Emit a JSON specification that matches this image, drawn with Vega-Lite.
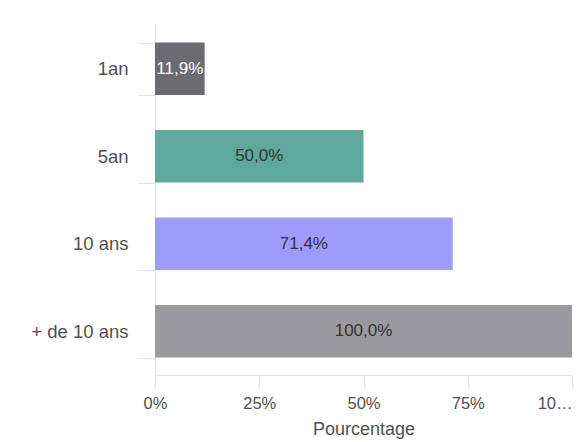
{
  "$schema": "https://vega.github.io/schema/vega-lite/v6.json",
  "width": 417,
  "height": 350,
  "autosize": {"type": "none"},
  "padding": {"left": 155, "top": 25, "right": 16, "bottom": 67},
  "data": {
    "values": [
      {"duree": "1an", "value": 0.119},
      {"duree": "5an", "value": 0.5},
      {"duree": "10 ans", "value": 0.714},
      {"duree": "+ de 10 ans", "value": 1.0}
    ]
  },
  "encoding": {
    "y": {
      "field": "duree",
      "type": "nominal",
      "sort": null,
      "scale": {"paddingInner": 0.4, "paddingOuter": 0.2},
      "axis": {
        "title": null,
        "tickBand": "extent",
        "tickSize": 17,
        "labelPadding": 10,
        "labelFontSize": 18.5,
        "labelColor": "#505050",
        "labelFont": "Liberation Sans",
        "domainColor": "#dde3f1",
        "tickColor": "#dde3f1"
      }
    }
  },
  "layer": [
    {
      "mark": {"type": "bar"},
      "encoding": {
        "x": {
          "field": "value",
          "type": "quantitative",
          "scale": {"domain": [0, 1], "nice": false},
          "axis": {
            "title": "Pourcentage",
            "format": ".0%",
            "values": [0, 0.25, 0.5, 0.75, 1],
            "labelExpr": "datum.value === 1 ? '10…' : datum.label",
            "labelAlign": {"condition": {"test": "datum.value === 1", "value": "right"}, "value": "center"},
            "grid": false,
            "tickSize": 14,
            "labelPadding": 6,
            "labelFontSize": 16.5,
            "labelColor": "#505050",
            "labelFont": "Liberation Sans",
            "titleFont": "Liberation Sans",
            "titleFontSize": 18,
            "titleFontWeight": "normal",
            "titleColor": "#505050",
            "titlePadding": 9,
            "domainColor": "#dde3f1",
            "tickColor": "#dde3f1"
          }
        },
        "color": {
          "field": "duree",
          "type": "nominal",
          "sort": null,
          "scale": {
            "domain": ["1an", "5an", "10 ans", "+ de 10 ans"],
            "range": ["#6c6a72", "#5ea89d", "#9d9cfc", "#9a9a9e"]
          },
          "legend": null
        }
      }
    },
    {
      "transform": [{"calculate": "datum.value / 2", "as": "milieu"}],
      "mark": {"type": "text", "font": "Liberation Sans", "fontSize": 17, "align": "center", "baseline": "middle"},
      "encoding": {
        "x": {"field": "milieu", "type": "quantitative"},
        "text": {"field": "value", "type": "quantitative", "format": ".1%"},
        "color": {
          "condition": {"test": "datum.duree === '1an'", "value": "#ffffff"},
          "value": "#333333"
        }
      }
    }
  ],
  "config": {
    "locale": {"number": {"decimal": ",", "thousands": " ", "grouping": [3], "currency": ["", " €"]}},
    "view": {"stroke": null}
  }
}
